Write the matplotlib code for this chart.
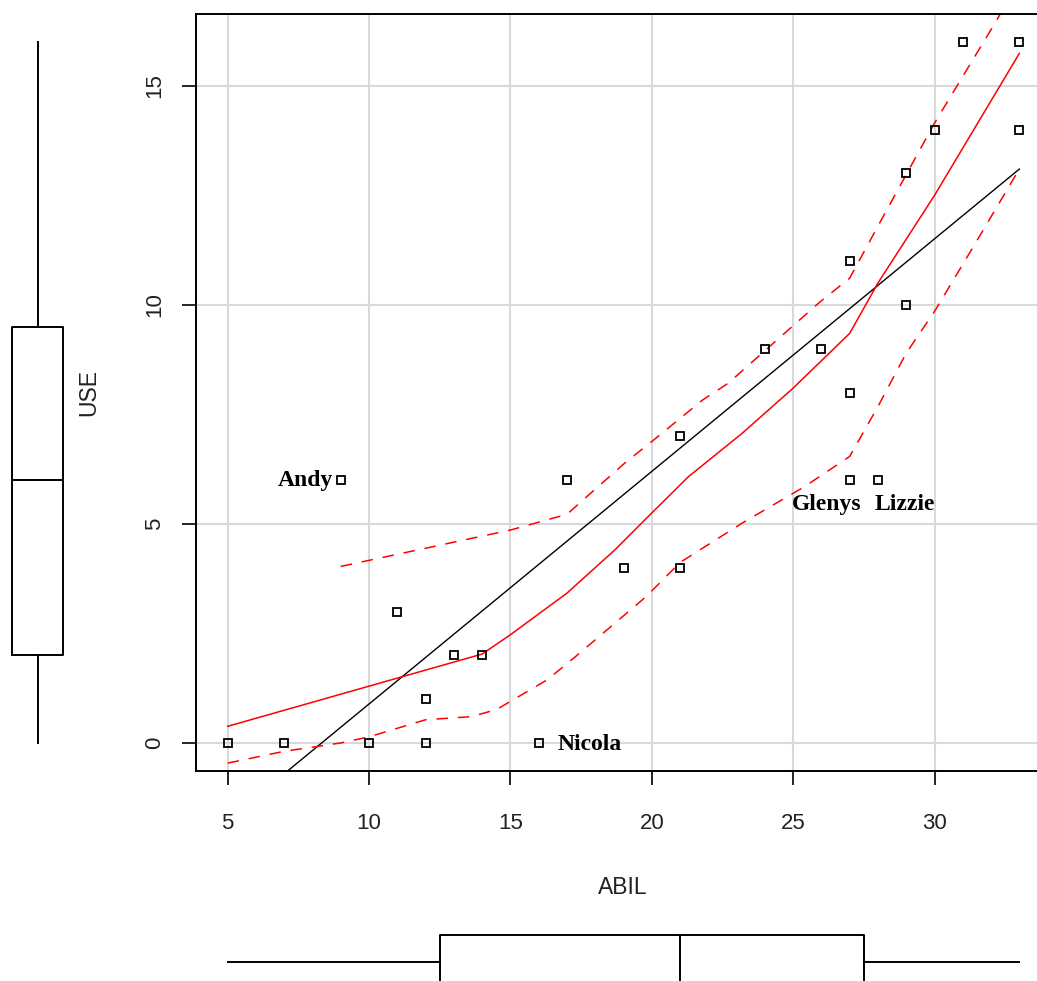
import numpy as np
import matplotlib
matplotlib.use("Agg")
import matplotlib.pyplot as plt

# ---------------- data ----------------
abil = [5, 7, 9, 10, 11, 12, 12, 13, 14, 16, 17, 19, 21, 21, 24, 26, 27, 27, 27, 28, 29, 29, 30, 31, 33, 33]
use = [0, 0, 6, 0, 3, 1, 0, 2, 2, 0, 6, 4, 7, 4, 9, 9, 11, 8, 6, 6, 13, 10, 14, 16, 16, 14]

point_labels = {2: "Andy", 9: "Nicola", 18: "Glenys", 19: "Lizzie"}

# smoother
smooth_x = [5, 14, 15, 17, 18.7, 20, 21.3, 23.2, 25, 27, 28, 30, 33]
smooth_y = [0.38, 2.03, 2.47, 3.42, 4.41, 5.25, 6.08, 7.07, 8.1, 9.35, 10.5, 12.5, 15.74]
upper_x = [9, 15, 17, 18.1, 19.1, 20, 21.8, 22.7, 25.9, 27, 28, 30, 32.1, 33]
upper_y = [4.03, 4.86, 5.22, 5.85, 6.42, 6.88, 7.83, 8.21, 10.04, 10.61, 11.8, 14.15, 16.39, 17.4]
lower_x = [5, 7, 9, 10, 12, 13.6, 14.5, 16.3, 17.3, 19.8, 21, 23.2, 25.4, 27, 28, 29, 30, 31.3, 33]
lower_y = [-0.46, -0.19, 0.0, 0.14, 0.53, 0.60, 0.76, 1.44, 1.97, 3.34, 4.12, 5.02, 5.85, 6.54, 7.68, 8.9, 9.85, 11.25, 13.1]

# boxplot five-number summaries as drawn
abil_box = [5, 12.5, 21, 27.5, 33]
use_box = [0, 2, 6, 9.5, 16]

x_ticks = [5, 10, 15, 20, 25, 30]
y_ticks = [0, 5, 10, 15]

# ---------------- figure ----------------
W, H = 1037, 981
fig = plt.figure(figsize=(W / 100, H / 100), dpi=100)

def px_rect(x0, y0, x1, y1):
    """pixel box (top-left origin) -> figure fraction rect"""
    return [x0 / W, (H - y1) / H, (x1 - x0) / W, (y1 - y0) / H]

sans = ["Liberation Sans", "DejaVu Sans"]
serif = ["Liberation Serif", "DejaVu Serif"]
tick_col = "#222222"

xlim = (3.88, 34.12)
ylim = (-0.64, 16.64)

ax = fig.add_axes(px_rect(196, 14, 1051, 771))
ax.set_xlim(*xlim)
ax.set_ylim(*ylim)
ax.grid(True, color="#d9d9d9", linewidth=1.5)
ax.set_axisbelow(True)
for s in ax.spines.values():
    s.set_linewidth(1.4)
    s.set_color("black")
ax.set_xticks(x_ticks)
ax.set_yticks(y_ticks)
ax.tick_params(axis="x", length=10, width=1.2, pad=20, labelsize=16, labelcolor=tick_col)
ax.tick_params(axis="y", length=10, width=1.2, pad=12, labelsize=16, labelcolor=tick_col)
for lab in ax.get_xticklabels() + ax.get_yticklabels():
    lab.set_family(sans)
for lab in ax.get_yticklabels():
    lab.set_rotation(90)
    lab.set_va("center")

# regression line (least squares on the data)
b, a = np.polyfit(abil, use, 1)
xs = np.array([min(abil), max(abil)])
ax.plot(xs, a + b * xs, color="black", linewidth=1.0)

# smoother and spread
ax.plot(smooth_x, smooth_y, color="#ff0000", linewidth=1.1)
ax.plot(upper_x, upper_y, color="#ff0000", linewidth=1.1, linestyle=(0, (7.5, 6.5)))
ax.plot(lower_x, lower_y, color="#ff0000", linewidth=1.1, linestyle=(0, (7.5, 6.5)))

# points
ax.plot(abil, use, linestyle="none", marker="s", markersize=5.5,
        markerfacecolor="none", markeredgecolor="black", markeredgewidth=1.3)

# point labels
offsets = {"Andy": (-8, 0, "right"), "Nicola": (19, -2, "left"),
           "Glenys": (-23, -24, "center"), "Lizzie": (27, -24, "center")}
for i, name in point_labels.items():
    dx, dy, ha = offsets[name]
    ax.annotate(name, (abil[i], use[i]), xytext=(dx, dy), textcoords="offset pixels",
                ha=ha, va="center", fontsize=17, fontweight="bold", family=serif,
                color="black")

# axis titles
fig.text(623 / W, 1 - 888 / H, "ABIL", ha="center", va="center", fontsize=16.5,
         family=sans, color=tick_col)
fig.text(89 / W, 1 - 392 / H, "USE", ha="center", va="center", fontsize=16.5,
         family=sans, color=tick_col, rotation=90)

# left boxplot (USE)
axl = fig.add_axes(px_rect(0, 14, 75, 771))
axl.set_ylim(*ylim)
axl.set_xlim(-1, 1)
axl.bxp([dict(whislo=use_box[0], q1=use_box[1], med=use_box[2], q3=use_box[3],
              whishi=use_box[4], fliers=[])],
        positions=[0], widths=[1.36], vert=True, showcaps=False, showfliers=False,
        boxprops=dict(linewidth=1.4, color="black"),
        whiskerprops=dict(linewidth=1.4, color="black", linestyle="-"),
        medianprops=dict(linewidth=1.4, color="black"))
axl.set_axis_off()

# bottom boxplot (ABIL)
axb = fig.add_axes(px_rect(196, 910, 1051, 1014))
axb.set_xlim(*xlim)
axb.set_ylim(-1, 1)
axb.bxp([dict(whislo=abil_box[0], q1=abil_box[1], med=abil_box[2], q3=abil_box[3],
              whishi=abil_box[4], fliers=[])],
        positions=[0], widths=[1.04], vert=False, showcaps=False, showfliers=False,
        boxprops=dict(linewidth=1.4, color="black"),
        whiskerprops=dict(linewidth=1.4, color="black", linestyle="-"),
        medianprops=dict(linewidth=1.4, color="black"))
axb.set_axis_off()

fig.savefig("out.png", dpi=100)
